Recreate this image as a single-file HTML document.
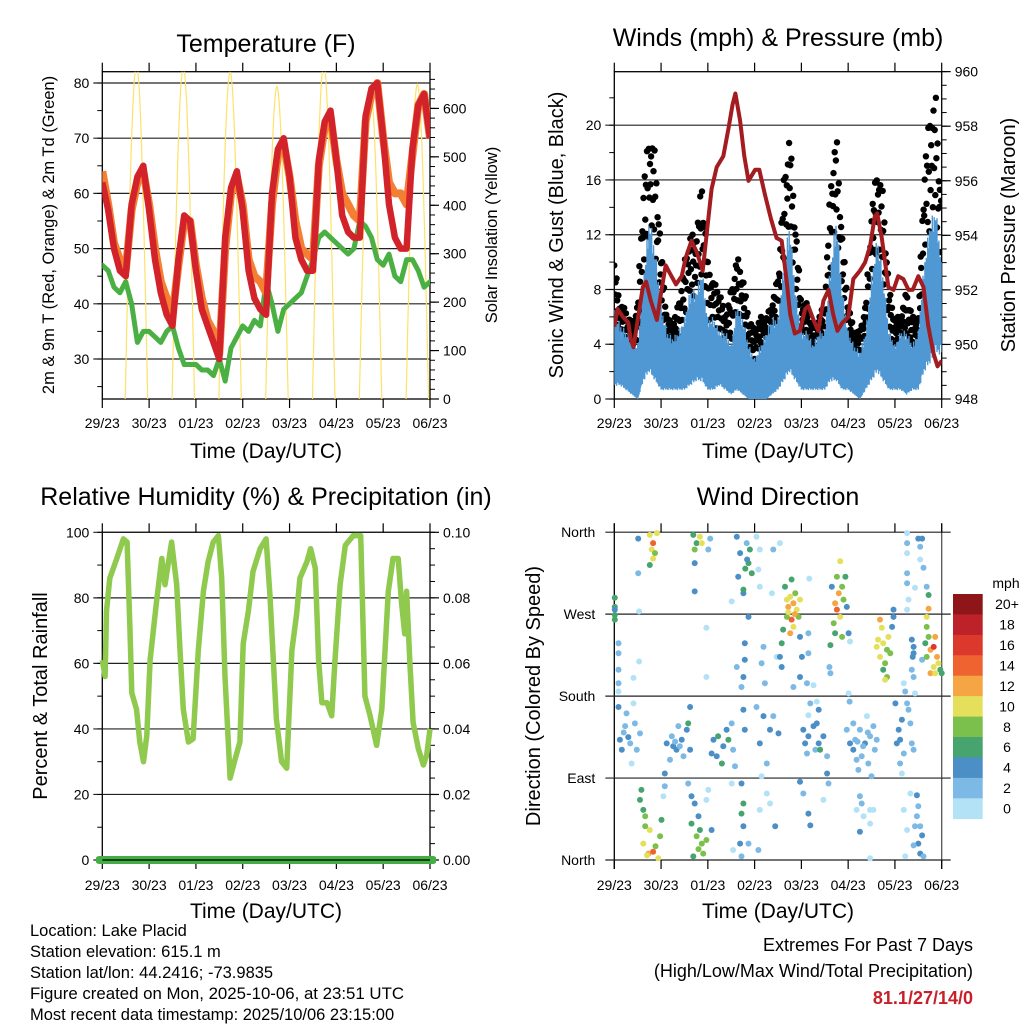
<!DOCTYPE html>
<html><head><meta charset="utf-8"><style>
html,body{margin:0;padding:0;background:#fff;}
svg{display:block;font-family:"Liberation Sans",Arial,sans-serif;}
</style></head><body>
<svg id="chart" width="1024" height="1024" viewBox="0 0 1024 1024" xmlns="http://www.w3.org/2000/svg">
<defs>
<clipPath id="c1"><rect x="102.3" y="71.7" width="327.7" height="327.3"/></clipPath>
<clipPath id="c2"><rect x="614.3" y="71.7" width="327.4" height="327.3"/></clipPath>
<clipPath id="c3"><rect x="96" y="525" width="340" height="345"/></clipPath>
</defs>
<text x="266" y="52" font-size="25" text-anchor="middle">Temperature (F)</text>
<text x="778" y="46" font-size="25" text-anchor="middle">Winds (mph) &amp; Pressure (mb)</text>
<text x="266" y="505" font-size="25" text-anchor="middle">Relative Humidity (%) &amp; Precipitation (in)</text>
<text x="778" y="505" font-size="25" text-anchor="middle">Wind Direction</text>
<text transform="translate(54,235) rotate(-90)" font-size="16.5" text-anchor="middle">2m &amp; 9m T (Red, Orange) &amp; 2m Td (Green)</text>
<text transform="translate(497,235) rotate(-90)" font-size="16.5" text-anchor="middle">Solar Insolation (Yellow)</text>
<text transform="translate(563,235) rotate(-90)" font-size="20" text-anchor="middle">Sonic Wind &amp; Gust (Blue, Black)</text>
<text transform="translate(1015,235) rotate(-90)" font-size="20" text-anchor="middle">Station Pressure (Maroon)</text>
<text transform="translate(47,696) rotate(-90)" font-size="20" text-anchor="middle">Percent &amp; Total Rainfall</text>
<text transform="translate(540,696) rotate(-90)" font-size="20" text-anchor="middle">Direction (Colored By Speed)</text>
<text x="266" y="458" font-size="21" text-anchor="middle">Time (Day/UTC)</text>
<text x="778" y="458" font-size="21" text-anchor="middle">Time (Day/UTC)</text>
<text x="266" y="918" font-size="21" text-anchor="middle">Time (Day/UTC)</text>
<text x="778" y="918" font-size="21" text-anchor="middle">Time (Day/UTC)</text>
<g font-size="16.5">
<text x="30" y="936">Location: Lake Placid</text>
<text x="30" y="957">Station elevation: 615.1 m</text>
<text x="30" y="978">Station lat/lon: 44.2416; -73.9835</text>
<text x="30" y="999" textLength="374" lengthAdjust="spacingAndGlyphs">Figure created on Mon, 2025-10-06, at 23:51 UTC</text>
<text x="30" y="1020">Most recent data timestamp: 2025/10/06 23:15:00</text>
</g>
<g font-size="18" text-anchor="end">
<text x="973" y="951">Extremes For Past 7 Days</text>
<text x="973" y="977">(High/Low/Max Wind/Total Precipitation)</text>
<text x="973" y="1004" fill="#c8202a" font-weight="bold">81.1/27/14/0</text>
</g>
</svg>
<script>
const dayLabels=['29/23','30/23','01/23','02/23','03/23','04/23','05/23','06/23'];
// Temperature, 3-hourly from start
const tempRed=[62,57,50,46,45,58,63,65, 57,48,42,38,36,48,56,55, 46,39,36,33,30,52,61,64, 57,46,41,39,38,60,68,70, 63,52,48,46,46,66,73,75, 66,56,53,52,52,74,79,80, 70,58,52,50,50,68,76,78, 70];
const tempOrange=[64,58,51,48,46,57,62,64, 58,50,44,41,38,47,55,55, 47,41,37,35,31,50,60,63, 58,48,45,44,42,58,67,69, 63,55,50,49,48,65,72,74, 66,60,58,56,55,73,78,80, 70,62,60,60,58,67,76,78, 70];
const dewGreen=[47,46,43,42,44,40,33,35, 35,34,33,35,36,32,29,29, 29,28,28,27,30,26,32,34, 36,35,37,36,44,40,35,39, 40,41,42,45,48,52,53,52, 51,50,49,50,55,54,52,48, 47,49,45,44,48,48,46,43, 44];
const solarPeak=[690,685,675,645,690,640,650];
const solarRise=[0.49,0.49,0.49,0.49,0.49,0.49,0.49];
const solarSet=[0.97,0.97,0.97,0.97,0.97,0.97,0.97];
// Winds, 3-hourly: low / high of sonic wind, gust max
const windLow=[1.5,1.5,1,0.5,0,2,3,2, 1,1,1,1,1,1.5,2,2, 1,1,1.5,1,0.5,1,0.5,0, 0,0,0,0.5,1,2,3,2, 1,1,1,1,1,2,2,1, 1,0.5,0,1,2,3,2,1, 1,1,0.5,1,1,3,4,5, 5];
const windHigh=[6.5,5.5,5,4.5,4,9,13.5,11, 7,5,4.5,5,6,8,8,9.5, 6,6,5,5,4,7,6,4, 3,4,5,6,6,10,13,8, 5,5,4,5,5,10,13.5,8, 5,4,3.5,5,9,12,9,5, 4,5,5,4,5,10,13,14, 10];
const windGust=[10,7,6.5,5.5,7,16,19.5,18, 11,6,5.5,7,10,12,12,16, 10,8.5,8,6,8,10.5,9,6, 5,6,6,7,9,16,19.5,13, 7,7,5,6,7,16,19.5,12, 7,5,5,7,14,17,15,8, 6,6,8,6,6,17,21,22, 14];
const pressTime=[0,0.07,0.19,0.30,0.35,0.41,0.50,0.61,0.68,0.78,0.91,1.0,1.10,1.19,1.32,1.44,1.53,1.65,1.76,1.89,2.01,2.08,2.19,2.33,2.44,2.53,2.59,2.69,2.78,2.87,3.01,3.10,3.22,3.35,3.47,3.58,3.68,3.76,3.86,3.97,4.08,4.15,4.26,4.36,4.47,4.58,4.68,4.77,4.88,5.00,5.11,5.25,5.36,5.47,5.57,5.62,5.72,5.86,5.97,6.07,6.18,6.29,6.38,6.50,6.61,6.71,6.82,6.91,7.0];
const pressVal=[950.65,951.3,951.0,950.8,950.2,949.9,950.9,952.1,952.3,951.6,950.9,951.9,952.9,952.6,952.2,952.5,953.2,953.8,953.4,952.7,954.6,955.7,956.5,956.9,957.9,958.8,959.2,958.2,956.9,956.0,956.4,956.4,955.5,954.6,953.9,953.8,952.4,951.1,950.4,950.5,951.3,951.4,950.9,950.5,951.6,952.0,951.1,950.5,950.8,951.0,952.4,952.7,953.0,953.6,954.7,954.8,953.9,952.1,952.0,952.5,952.4,952.0,952.0,952.5,952.1,950.7,949.7,949.2,949.4];
// Relative humidity
const rhTime=[0,0.06,0.09,0.16,0.31,0.45,0.53,0.59,0.63,0.73,0.80,0.88,0.95,1.02,1.16,1.27,1.34,1.48,1.59,1.66,1.73,1.84,1.94,2.05,2.16,2.26,2.37,2.48,2.55,2.62,2.73,2.84,2.94,3.01,3.12,3.22,3.37,3.50,3.58,3.72,3.83,3.94,4.05,4.15,4.22,4.37,4.45,4.55,4.62,4.69,4.80,4.90,4.97,5.08,5.19,5.36,5.52,5.61,5.72,5.86,5.97,6.11,6.21,6.32,6.39,6.46,6.50,6.57,6.64,6.75,6.86,6.93,7.0];
const rhVal=[61,56,76,86,92,98,97,71,51,46,36,30,38,61,79,92,84,97,84,64,46,36,37,64,82,91,97,99,86,56,25,31,36,66,76,88,95,98,81,43,30,28,64,75,86,91,95,89,61,48,48,44,61,84,96,99,99,50,44,35,46,82,92,92,79,69,82,60,42,34,29,32,40];
const precipTime=[0,7];
const precipVal=[0,0];
// Wind direction observations [dayFraction, degrees, mph]
const wdDay0=[[0.01,288,6],[0.01,278,6],[0.01,275,5],[0.01,269,6],[0.01,264,6],[0.09,238,2],[0.09,227,2],[0.09,209,2],[0.09,194,2],[0.09,185,1],[0.51,353,4],[0.51,315,2],[0.53,273,1],[0.53,218,1],[0.41,200,1],[0.76,357,10],[0.83,348,14],[0.80,341,11],[0.87,337,9],[0.91,359,10],[0.76,324,6],[0.83,331,10],[0.12,132,4],[0.23,147,2],[0.34,128,2],[0.44,150,2],[0.55,139,2],[0.16,121,4],[0.26,161,2],[0.48,121,2],[0.37,106,1],[0.09,168,4],[0.41,172,1],[0.55,66,6],[0.62,55,6],[0.66,37,8],[0.62,18,10],[0.73,7,12],[0.83,9,14],[0.94,2,10],[0.98,26,8],[1.01,44,6],[0.76,33,10],[0.58,77,6],[0.66,48,8],[0.20,140,2],[0.30,135,4],[0.70,5,10],[0.88,15,8]];
const wdDay1=[[1.05,70,1],[1.08,81,2],[1.12,128,4],[1.23,136,2],[1.33,121,4],[1.44,132,4],[1.55,143,4],[1.62,121,4],[1.58,150,6],[1.08,95,4],[1.19,110,2],[1.48,114,2],[1.37,147,2],[1.26,125,4],[1.62,168,4],[1.69,357,6],[1.76,348,6],[1.87,348,10],[1.83,355,10],[1.72,341,8],[1.72,326,4],[1.72,295,4],[2.05,353,2],[2.01,341,2],[1.65,40,6],[1.76,26,8],[1.87,18,8],[1.83,33,6],[1.90,7,8],[1.97,22,8],[1.69,4,6],[1.80,48,4],[1.65,70,4],[1.72,62,4],[1.97,66,1],[2.01,77,1],[2.08,33,4],[1.58,84,2],[1.80,12,8],[1.30,130,2],[1.40,125,2]];
const wdDay2=[[2.12,132,4],[2.22,136,6],[2.33,125,4],[2.44,132,6],[2.19,114,4],[2.40,143,4],[2.54,121,2],[2.08,117,4],[2.51,150,2],[2.30,106,6],[2.58,103,2],[2.51,84,0],[1.97,201,0],[2.51,284,1],[1.97,255,0],[2.62,355,4],[2.69,337,4],[2.65,311,4],[2.76,293,4],[2.87,326,6],[2.90,341,6],[2.83,348,2],[2.94,315,6],[2.87,267,4],[2.79,238,4],[2.79,220,4],[2.76,201,4],[2.72,190,2],[2.62,212,2],[2.76,165,4],[2.79,143,4],[2.72,84,4],[2.76,62,6],[2.72,51,6],[2.76,37,4],[2.69,18,4],[2.72,4,2],[2.87,18,2],[2.54,11,1],[2.76,297,6],[3.04,355,0],[3.11,341,1],[3.08,319,1],[3.11,300,0],[3.19,234,2],[3.15,216,2],[3.22,194,2],[3.04,168,2],[3.19,158,4],[3.11,128,4],[3.33,143,4],[3.51,139,4],[3.26,106,2],[3.15,92,1],[3.26,73,1],[3.11,55,1],[3.33,62,1],[3.44,37,4],[3.08,11,2],[3.40,158,2],[3.40,341,2],[3.54,348,1],[3.37,293,1],[3.47,223,1],[2.84,330,4],[2.80,320,6]];
const wdDay3=[[3.65,300,6],[3.76,289,10],[3.83,282,12],[3.90,275,10],[3.69,267,8],[3.79,264,14],[3.87,293,8],[3.72,278,12],[3.61,253,6],[3.76,249,12],[3.58,238,6],[3.94,267,8],[3.79,308,6],[3.97,286,10],[3.69,286,10],[3.83,256,10],[3.54,223,4],[3.58,212,4],[3.83,190,2],[3.97,245,4],[4.01,223,4],[3.97,201,4],[4.15,249,2],[4.15,227,2],[4.12,194,2],[4.26,192,1],[4.15,159,1],[4.19,172,2],[4.33,174,1],[3.97,86,4],[4.04,73,2],[4.15,51,4],[4.19,38,4],[4.47,66,1],[4.17,309,0],[4.04,143,4],[4.15,136,4],[4.26,147,4],[4.37,128,4],[4.47,136,4],[4.55,114,2],[4.30,121,2],[4.08,128,4],[4.40,121,6],[4.55,95,4],[4.58,84,2],[4.37,165,4],[4.12,117,2],[4.33,150,4],[3.72,272,10],[3.86,270,12]];
const wdDay4=[[4.83,328,10],[4.76,311,8],[4.87,300,8],[4.72,282,12],[4.76,275,14],[4.83,267,10],[4.69,260,8],[4.90,286,8],[4.65,300,4],[4.97,278,4],[4.87,245,8],[4.62,236,6],[4.80,293,12],[4.94,311,6],[4.72,249,6],[5.01,249,4],[4.60,212,2],[4.62,205,2],[5.01,183,1],[5.03,174,2],[5.04,240,1],[5.04,128,4],[5.15,132,2],[5.25,143,2],[5.36,128,4],[5.47,136,2],[5.57,121,2],[5.11,121,4],[5.29,114,2],[5.43,106,2],[5.54,147,2],[5.22,99,2],[5.50,92,2],[5.11,150,2],[5.40,158,1],[5.61,132,2],[5.18,110,2],[4.97,143,2],[5.25,70,2],[5.29,62,2],[5.18,55,1],[5.33,48,1],[5.47,55,1],[5.25,31,4],[5.47,40,1],[5.47,2,0],[5.54,55,0],[5.20,130,2],[5.32,125,2],[5.42,140,2]];
const wdDay5=[[5.68,264,12],[5.72,255,10],[5.64,242,10],[5.75,238,10],[5.83,231,8],[5.68,223,10],[5.79,216,8],[5.86,245,10],[5.75,209,6],[5.90,227,8],[5.83,201,8],[5.79,198,10],[5.61,234,10],[5.94,256,4],[5.97,267,4],[6.01,172,4],[6.08,143,4],[6.11,132,4],[6.04,128,4],[6.15,154,4],[6.19,117,2],[6.11,106,2],[6.26,172,2],[6.33,150,2],[6.36,128,2],[6.40,121,2],[6.15,95,1],[5.97,275,4],[6.29,165,2],[6.26,359,0],[6.26,348,2],[6.26,337,0],[6.50,353,4],[6.58,353,4],[6.54,344,2],[6.54,330,1],[6.61,321,2],[6.26,315,2],[6.26,304,2],[6.29,286,1],[6.26,275,1],[6.43,299,1],[6.68,300,2],[6.40,234,4],[6.38,223,4],[6.36,209,2],[6.40,201,2],[6.58,220,2],[6.43,183,1],[6.19,194,1],[6.22,185,2],[6.47,71,4],[6.50,59,2],[6.47,48,2],[6.54,37,2],[6.58,27,4],[6.50,18,4],[6.54,7,4],[6.43,37,2],[6.61,4,2],[6.26,33,1],[6.22,4,1],[6.19,55,1],[6.33,73,1],[6.40,16,2]];
const wdDay6=[[6.72,291,6],[6.72,276,12],[6.68,267,10],[6.68,256,8],[6.65,238,6],[6.76,231,12],[6.83,234,16],[6.86,245,12],[6.90,223,12],[6.93,216,10],[6.83,212,10],[6.76,205,12],[6.97,209,6],[7.0,205,6],[6.68,223,8],[6.86,205,10],[6.72,245,8],[6.36,242,4],[6.40,227,4]];
const speedBins=['0','2','4','6','8','10','12','14','16','18','20+'];
const speedColors=['#b3e2f7','#7db9e5','#4b8fc6','#47a46e','#7bc04c','#e4e05c','#f6a545','#ef6330','#dc382b','#bd2129','#8e1619'];

const NS='http://www.w3.org/2000/svg';
const svg=document.getElementById('chart');
function mk(tag,attrs,parent){const e=document.createElementNS(NS,tag);for(const k in attrs)e.setAttribute(k,attrs[k]);(parent||svg).appendChild(e);return e;}
const P={
 t:{x0:102.3,x1:430,y0:71.7,y1:399},
 w:{x0:614.3,x1:941.7,y0:71.7,y1:399},
 h:{x0:102.3,x1:430,y0:532.3,y1:860},
 d:{x0:614.3,x1:941.7,y0:532.3,y1:860}
};
function xs(p,t){return p.x0+t*(p.x1-p.x0)/7;}
const yTemp=v=>359-(v-30)*5.52, ySolar=v=>399-v*0.4843;
const yWind=v=>399-v*13.69, yPress=v=>399-(v-948)*27.28;
const yRH=v=>860-v*3.277, yPrec=v=>860-v*3277;
const yDir=v=>860-v*0.9106;

function gridAndAxes(p,name,leftTicks,leftFn,leftFmt,leftMinor,rightTicks,rightFn,rightFmt,rightMinor,labelY){
  const g=mk('g',{});
  
  
  let r=mk('rect',{x:p.x0,y:p.y0,width:p.x1-p.x0,height:p.y1-p.y0,fill:'none',stroke:'#000','stroke-width':1.3},g);
  
  
  leftTicks.forEach(v=>{
    const y=leftFn(v);
    let l=mk('line',{x1:p.x0-9,x2:p.x1,y1:y,y2:y,stroke:'#222','stroke-width':1.2},g);
    
    
    let t=mk('text',{x:p.x0-13,y:y+5,'font-size':14,'text-anchor':'end'},g);
    
    
    t.textContent=leftFmt(v);
  });
  leftMinor.forEach(v=>{const y=leftFn(v);mk('line',{x1:p.x0-5,x2:p.x0,y1:y,y2:y,stroke:'#000','stroke-width':1},g);});
  rightTicks.forEach(v=>{
    const y=rightFn(v);
    mk('line',{x1:p.x1,x2:p.x1+9,y1:y,y2:y,stroke:'#000','stroke-width':1.2},g);
    let t=mk('text',{x:p.x1+13,y:y+5,'font-size':14,'text-anchor':'start'},g);
    
    
    t.textContent=rightFmt(v);
  });
  rightMinor.forEach(v=>{const y=rightFn(v);mk('line',{x1:p.x1,x2:p.x1+5,y1:y,y2:y,stroke:'#000','stroke-width':1},g);});
  dayLabels.forEach((lab,i)=>{
    const x=xs(p,i);
    mk('line',{x1:x,x2:x,y1:p.y0-9,y2:p.y0,stroke:'#000','stroke-width':1.2},g);
    mk('line',{x1:x,x2:x,y1:p.y1,y2:p.y1+9,stroke:'#000','stroke-width':1.2},g);
    if(labelY){
      let t=mk('text',{x:x,y:labelY,'font-size':14,'text-anchor':'middle'},g);
      
      
      t.textContent=lab;
    }
  });
}
function range(a,b,s){const o=[];for(let v=a;v<=b+1e-9;v+=s)o.push(+v.toFixed(4));return o;}
function pathFrom(ts,vs,p,fy){return ts.map((t,i)=>(i?'L':'M')+xs(p,t).toFixed(1)+' '+fy(vs[i]).toFixed(1)).join(' ');}
const grid3=tempRed.map((_,i)=>i*0.125);
function interp(arr,t){const i=Math.min(arr.length-2,Math.floor(t/0.125));const f=(t-i*0.125)/0.125;return arr[i]+(arr[i+1]-arr[i])*f;}

// ---------- Panel 1: temperature ----------
gridAndAxes(P.t,'temperature',[30,40,50,60,70,80],yTemp,v=>v,range(25,80,5),[0,100,200,300,400,500,600],ySolar,v=>v,range(0,660,20),428);
const g1=mk('g',{'clip-path':'url(#c1)'});


solarPeak.forEach((pk,d)=>{
  const pts=[];
  const rise=d+solarRise[d], set=d+solarSet[d];
  for(let k=0;k<=30;k++){const t=rise+(set-rise)*k/30;pts.push([t,pk*Math.sin(Math.PI*k/30)]);}
  let e=mk('path',{d:pathFrom(pts.map(q=>q[0]),pts.map(q=>q[1]),P.t,ySolar),fill:'none',stroke:'#fde26a','stroke-width':1.2},g1);
  
  
});
let e;
e=mk('path',{d:pathFrom(grid3,dewGreen,P.t,yTemp),fill:'none',stroke:'#4bb043','stroke-width':5,'stroke-linejoin':'round','stroke-linecap':'round'},g1);


e=mk('path',{d:pathFrom(grid3,tempOrange,P.t,yTemp),fill:'none',stroke:'#f47f32','stroke-width':8,'stroke-linejoin':'round'},g1);


e=mk('path',{d:pathFrom(grid3,tempRed,P.t,yTemp),fill:'none',stroke:'#d3232a','stroke-width':6.5,'stroke-linejoin':'round'},g1);



// ---------- Panel 2: winds ----------
gridAndAxes(P.w,'winds',[0,4,8,12,16,20],yWind,v=>v,range(0,22,2),[948,950,952,954,956,958,960],yPress,v=>v,range(948,960,0.5),428);
const g2=mk('g',{'clip-path':'url(#c2)'});


const fr=[0.95,0.55,0.8,0.35,1.0,0.65,0.2,0.9,0.45,0.75,0.6,0.85,0.3];
for(let i=0;i<windGust.length-1;i++){
  for(let k=0;k<10;k++){
    const t=grid3[i]+0.125*k/10;
    const hi=interp(windHigh,t), gu=interp(windGust,t);
    const v=hi*0.8+(gu-hi*0.8)*fr[(i*10+k)%13];
    const c=mk('circle',{cx:xs(P.w,t).toFixed(1),cy:yWind(v).toFixed(1),r:3.2,fill:'#000'},g2);
    
    
  }
}
const hat=[1,0.7,0.85,0.55,0.95,0.75,0.6,0.9,0.5,0.8];
let hd='';
for(let j=0;j<=700;j++){
  const t=j*0.01;
  const lo=interp(windLow,t), hi=interp(windHigh,t);
  const top=lo+(hi-lo)*hat[j%10];
  const lo2=lo*(0.3+0.7*hat[(j+3)%10]);
  const x=xs(P.w,t).toFixed(1);
  hd+='M'+x+' '+yWind(lo2).toFixed(1)+'L'+x+' '+yWind(top).toFixed(1);
}
e=mk('path',{d:hd,stroke:'#4f98d4','stroke-width':1.4,fill:'none'},g2);


const bandTop=grid3.map((t,i)=>xs(P.w,t).toFixed(1)+','+yWind(windLow[i]+(windHigh[i]-windLow[i])*0.5).toFixed(1));
const bandBot=grid3.map((t,i)=>xs(P.w,t).toFixed(1)+','+yWind(windLow[i]*0.8+0.5).toFixed(1)).reverse();
e=mk('polygon',{points:bandTop.concat(bandBot).join(' '),fill:'#4f98d4'},g2);


e=mk('path',{d:pathFrom(pressTime,pressVal,P.w,yPress),fill:'none',stroke:'#a31c1f','stroke-width':4,'stroke-linejoin':'round'},g2);



// ---------- Panel 3: humidity ----------
gridAndAxes(P.h,'humidity',[0,20,40,60,80,100],yRH,v=>v,range(0,100,10),[0,0.02,0.04,0.06,0.08,0.10],yPrec,v=>v.toFixed(2),range(0,0.1,0.005),890);
const g3=mk('g',{'clip-path':'url(#c3)'});


e=mk('path',{d:pathFrom(rhTime,rhVal,P.h,yRH),fill:'none',stroke:'#8fc94e','stroke-width':5.5,'stroke-linejoin':'round'},g3);


e=mk('line',{x1:xs(P.h,precipTime[0])-3,x2:xs(P.h,precipTime[1])+3,y1:yPrec(precipVal[0]),y2:yPrec(precipVal[1]),stroke:'#45ad45','stroke-width':8,'stroke-linecap':'round'},g3);


mk('line',{x1:P.h.x0,x2:P.h.x1,y1:860,y2:860,stroke:'#000','stroke-width':1.3},g3);

// ---------- Panel 4: wind direction ----------
const dirTicks=[0,90,180,270,360], dirNames=['North','East','South','West','North'];
(function(){
  const p=P.d;
  const g=mk('g',{});
  
  
  mk('line',{x1:p.x0,x2:p.x0,y1:p.y0-9,y2:p.y1+9,stroke:'#000','stroke-width':1.3},g);
  mk('line',{x1:p.x1,x2:p.x1,y1:p.y0-9,y2:p.y1+9,stroke:'#555','stroke-width':1.3},g);
  dirTicks.forEach((v,i)=>{
    const y=yDir(v);
    const l=mk('line',{x1:p.x0-9,x2:p.x1+9,y1:y,y2:y,stroke:'#222','stroke-width':1.2},g);
    
    
    const t=mk('text',{x:p.x0-19,y:y+5,'font-size':14,'text-anchor':'end'},g);
    
    
    t.textContent=dirNames[i];
  });
  dayLabels.forEach((lab,i)=>{
    const x=xs(p,i);
    mk('line',{x1:x,x2:x,y1:p.y0-9,y2:p.y0,stroke:'#000','stroke-width':1.2},g);
    mk('line',{x1:x,x2:x,y1:p.y1,y2:p.y1+9,stroke:'#000','stroke-width':1.2},g);
    const t=mk('text',{x:x,y:890,'font-size':14,'text-anchor':'middle'},g);
    
    
    t.textContent=lab;
  });
})();
const g4=mk('g',{});


[].concat(wdDay0,wdDay1,wdDay2,wdDay3,wdDay4,wdDay5,wdDay6).forEach(o=>{
  const bin=Math.min(10,Math.floor(o[2]/2));
  const c=mk('circle',{cx:xs(P.d,o[0]).toFixed(1),cy:yDir(o[1]).toFixed(1),r:3,fill:speedColors[bin]},g4);
  
  
});
(function(){
  const g=mk('g',{});
  
  
  const t=mk('text',{x:1006,y:588,'font-size':14,'text-anchor':'middle'},g);
  
  
  t.textContent='mph';
  const h=20.43;
  for(let i=10;i>=0;i--){
    const y=594+(10-i)*h;
    const r=mk('rect',{x:953,y:y.toFixed(1),width:29.7,height:(h+0.4).toFixed(1),fill:speedColors[i]},g);
    
    
    const l=mk('text',{x:1007,y:(y+h/2+5).toFixed(1),'font-size':14,'text-anchor':'middle'},g);
    
    
    l.textContent=speedBins[i];
  }
})();
</script>
</body></html>
